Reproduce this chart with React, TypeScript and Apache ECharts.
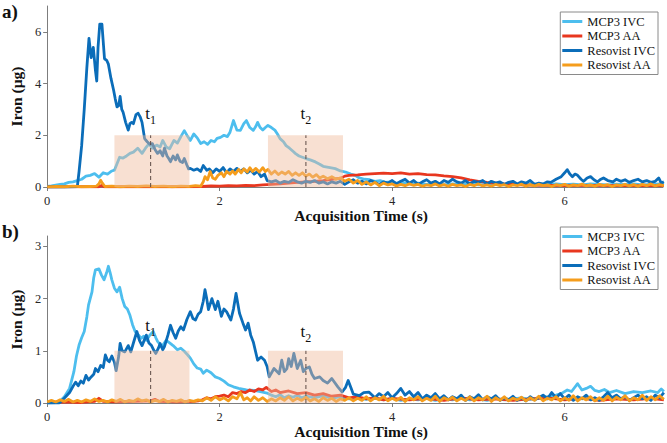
import React, { useEffect, useRef } from "react";
import * as echarts from "echarts";

const FONT = "Liberation Serif, serif";

const SERIES_NAMES = ["MCP3 IVC", "MCP3 AA", "Resovist IVC", "Resovist AA"];
const SERIES_COLORS = ["#4DBEEE", "#E8371F", "#0B6DB9", "#F59D1C"];

const X_MAX = 7.14;
const X_TICKS = [0, 2, 4, 6];
const A_Y_MAX = 7;
const A_Y_TICKS = [0, 2, 4, 6];
const B_Y_MAX = 3.2;
const B_Y_TICKS = [0, 1, 2, 3];

// ---------- panel a ----------
const aMcp3Ivc = [
  [0, 0.02], [0.05, 0.04], [0.1, 0.07], [0.15, 0.1], [0.2, 0.12], [0.25, 0.18], [0.3, 0.2], [0.35, 0.25],
  [0.4, 0.3], [0.45, 0.42], [0.5, 0.45], [0.55, 0.52], [0.6, 0.38], [0.65, 0.55], [0.7, 0.5], [0.75, 0.62],
  [0.78, 0.65], [0.81, 0.9], [0.84, 1.15], [0.88, 1.12], [0.92, 1.2], [0.96, 1.3], [1.0, 1.35], [1.05, 1.5],
  [1.1, 1.3], [1.14, 1.5], [1.18, 1.67], [1.22, 1.5], [1.27, 1.62], [1.31, 1.55], [1.34, 1.8], [1.38, 1.55],
  [1.42, 1.48], [1.47, 1.8], [1.51, 1.7], [1.55, 1.95], [1.59, 2.18], [1.63, 1.95], [1.66, 1.8], [1.7, 2.05],
  [1.74, 1.9], [1.78, 1.68], [1.82, 1.75], [1.86, 1.65], [1.9, 1.8], [1.94, 1.75], [1.97, 1.88], [2.01, 1.92],
  [2.05, 2.0], [2.09, 1.95], [2.12, 2.12], [2.16, 2.57], [2.2, 2.2], [2.24, 2.19], [2.28, 2.45], [2.31, 2.57],
  [2.35, 2.3], [2.39, 2.19], [2.42, 2.35], [2.44, 2.5], [2.47, 2.3], [2.5, 2.2], [2.53, 2.3], [2.56, 2.38],
  [2.6, 2.3], [2.64, 2.2], [2.67, 2.05], [2.7, 1.87], [2.74, 1.75], [2.77, 1.6], [2.81, 1.5], [2.85, 1.38],
  [2.88, 1.29], [2.92, 1.2], [2.96, 1.15], [3.0, 1.1], [3.05, 1.05], [3.11, 0.97], [3.16, 0.88], [3.2, 0.8],
  [3.23, 0.78], [3.28, 0.75], [3.34, 0.71], [3.4, 0.62], [3.46, 0.58], [3.52, 0.5], [3.57, 0.45], [3.62, 0.35],
  [3.68, 0.3], [3.74, 0.28], [3.8, 0.22], [3.86, 0.25], [3.92, 0.18], [3.98, 0.2], [4.05, 0.15], [4.12, 0.18],
  [4.2, 0.12], [4.3, 0.15], [4.4, 0.1], [4.5, 0.13], [4.6, 0.08], [4.7, 0.12], [4.8, 0.1], [4.9, 0.13],
  [5.0, 0.08], [5.1, 0.1], [5.2, 0.12], [5.3, 0.08], [5.4, 0.11], [5.5, 0.09], [5.6, 0.12], [5.7, 0.08],
  [5.8, 0.1], [5.9, 0.12], [6.0, 0.09], [6.1, 0.11], [6.2, 0.08], [6.3, 0.12], [6.4, 0.1], [6.5, 0.08],
  [6.6, 0.11], [6.7, 0.09], [6.8, 0.12], [6.9, 0.08], [7.0, 0.1], [7.1, 0.12], [7.15, 0.1],
];

const aMcp3Aa = [
  [0, 0], [0.3, 0.01], [0.6, 0.01], [0.63, 0.06], [0.66, 0.01], [1.0, 0.01], [1.5, 0.01], [1.8, 0.02],
  [1.9, 0.04], [2.0, 0.03], [2.1, 0.05], [2.2, 0.04], [2.3, 0.06], [2.4, 0.05], [2.5, 0.08], [2.6, 0.1],
  [2.7, 0.12], [2.8, 0.15], [2.9, 0.18], [3.0, 0.2], [3.1, 0.22], [3.2, 0.25], [3.3, 0.3], [3.4, 0.33],
  [3.45, 0.42], [3.5, 0.45], [3.6, 0.47], [3.7, 0.5], [3.8, 0.52], [3.9, 0.54], [4.0, 0.52], [4.1, 0.55],
  [4.2, 0.5], [4.3, 0.52], [4.4, 0.48], [4.5, 0.47], [4.6, 0.43], [4.7, 0.4], [4.8, 0.35], [4.9, 0.28],
  [5.0, 0.22], [5.1, 0.18], [5.2, 0.15], [5.3, 0.12], [5.4, 0.1], [5.5, 0.08], [5.6, 0.07], [5.8, 0.06],
  [6.0, 0.05], [6.3, 0.06], [6.6, 0.05], [7.0, 0.05], [7.15, 0.05],
];

const aResIvc = [
  [0, 0], [0.1, 0.01], [0.2, 0], [0.3, 0.01], [0.35, 0.02], [0.37, 0.6], [0.4, 1.6], [0.43, 3.0],
  [0.46, 4.6], [0.485, 5.75], [0.51, 5.0], [0.535, 5.4], [0.56, 4.5], [0.575, 4.1], [0.59, 5.4], [0.61, 6.3],
  [0.635, 6.3], [0.665, 4.96], [0.69, 4.9], [0.71, 4.75], [0.74, 4.2], [0.77, 3.75], [0.79, 3.4], [0.81, 3.1],
  [0.83, 3.15], [0.846, 3.5], [0.865, 3.0], [0.88, 2.9], [0.91, 2.5], [0.94, 2.2], [0.96, 2.45], [0.98, 2.5],
  [1.0, 2.45], [1.03, 2.8], [1.055, 2.85], [1.08, 2.7], [1.1, 2.5], [1.13, 1.87], [1.16, 1.75], [1.19, 1.65],
  [1.22, 1.68], [1.25, 1.45], [1.28, 1.3], [1.31, 1.4], [1.34, 1.2], [1.36, 1.5], [1.39, 1.2], [1.41, 1.1],
  [1.43, 0.98], [1.46, 1.2], [1.49, 1.05], [1.51, 1.24], [1.54, 1.0], [1.57, 0.95], [1.59, 1.1], [1.62, 0.85],
  [1.64, 0.7], [1.66, 0.72], [1.7, 0.65], [1.74, 0.7], [1.78, 0.6], [1.81, 0.83], [1.85, 0.65], [1.88, 0.7],
  [1.92, 0.55], [1.96, 0.7], [2.0, 0.6], [2.04, 0.75], [2.08, 0.55], [2.12, 0.7], [2.16, 0.6], [2.2, 0.72],
  [2.24, 0.6], [2.28, 0.7], [2.32, 0.55], [2.36, 0.65], [2.4, 0.5], [2.44, 0.6], [2.48, 0.4], [2.52, 0.5],
  [2.55, 0.25], [2.6, 0.2], [2.65, 0.25], [2.7, 0.15], [2.75, 0.22], [2.8, 0.18], [2.85, 0.28], [2.9, 0.2],
  [2.95, 0.15], [3.0, 0.22], [3.05, 0.18], [3.1, 0.25], [3.15, 0.15], [3.2, 0.2], [3.25, 0.12], [3.3, 0.2],
  [3.35, 0.15], [3.4, 0.22], [3.45, 0.1], [3.5, 0.2], [3.55, 0.28], [3.6, 0.15], [3.65, 0.22], [3.7, 0.12],
  [3.75, 0.25], [3.8, 0.18], [3.85, 0.1], [3.9, 0.2], [3.95, 0.15], [4.0, 0.25], [4.05, 0.12], [4.1, 0.22],
  [4.15, 0.3], [4.2, 0.15], [4.25, 0.25], [4.3, 0.1], [4.35, 0.2], [4.4, 0.28], [4.45, 0.15], [4.5, 0.22],
  [4.55, 0.12], [4.6, 0.25], [4.65, 0.18], [4.7, 0.3], [4.75, 0.2], [4.8, 0.15], [4.85, 0.25], [4.9, 0.12],
  [4.95, 0.22], [5.0, 0.18], [5.05, 0.25], [5.1, 0.12], [5.15, 0.22], [5.2, 0.15], [5.25, 0.2], [5.3, 0.1],
  [5.35, 0.18], [5.4, 0.22], [5.45, 0.12], [5.5, 0.2], [5.55, 0.15], [5.6, 0.25], [5.65, 0.1], [5.7, 0.15],
  [5.75, 0.12], [5.8, 0.2], [5.84, 0.18], [5.9, 0.3], [5.96, 0.4], [6.0, 0.55], [6.03, 0.67], [6.06, 0.5],
  [6.09, 0.4], [6.12, 0.5], [6.15, 0.45], [6.19, 0.3], [6.22, 0.22], [6.26, 0.35], [6.3, 0.4], [6.34, 0.28],
  [6.38, 0.2], [6.42, 0.3], [6.45, 0.35], [6.5, 0.25], [6.56, 0.2], [6.6, 0.3], [6.65, 0.22], [6.7, 0.28],
  [6.75, 0.18], [6.8, 0.25], [6.85, 0.3], [6.9, 0.2], [6.95, 0.25], [7.0, 0.18], [7.05, 0.22], [7.09, 0.35],
  [7.12, 0.15], [7.15, 0.2],
];

const aResAa = [
  [0, 0], [0.1, 0.02], [0.2, 0.01], [0.3, 0.03], [0.4, 0.01], [0.5, 0.02], [0.57, 0.03], [0.6, 0.12],
  [0.62, 0.26], [0.64, 0.15], [0.67, 0.02], [0.75, 0.03], [0.85, 0.01], [0.95, 0.03], [1.05, 0.02], [1.15, 0.04],
  [1.25, 0.02], [1.35, 0.03], [1.45, 0.01], [1.55, 0.03], [1.65, 0.02], [1.72, 0.05], [1.78, 0.03], [1.81, 0.2],
  [1.83, 0.4], [1.86, 0.28], [1.89, 0.6], [1.92, 0.35], [1.95, 0.3], [1.98, 0.45], [2.02, 0.55], [2.05, 0.4],
  [2.08, 0.6], [2.12, 0.5], [2.15, 0.62], [2.18, 0.5], [2.22, 0.68], [2.25, 0.55], [2.28, 0.7], [2.32, 0.58],
  [2.35, 0.75], [2.38, 0.6], [2.42, 0.72], [2.46, 0.58], [2.5, 0.75], [2.53, 0.6], [2.56, 0.68], [2.6, 0.5],
  [2.64, 0.62], [2.68, 0.48], [2.72, 0.58], [2.76, 0.5], [2.8, 0.6], [2.84, 0.45], [2.88, 0.55], [2.92, 0.45],
  [2.96, 0.55], [3.0, 0.42], [3.04, 0.5], [3.08, 0.38], [3.12, 0.48], [3.16, 0.35], [3.2, 0.42], [3.25, 0.32],
  [3.3, 0.4], [3.35, 0.3], [3.4, 0.35], [3.45, 0.22], [3.5, 0.3], [3.55, 0.15], [3.6, 0.25], [3.65, 0.1],
  [3.7, 0.2], [3.75, 0.08], [3.8, 0.18], [3.85, 0.05], [3.9, 0.15], [3.95, 0.08], [4.0, 0.12], [4.05, 0.04],
  [4.1, 0.1], [4.15, 0.05], [4.2, 0.12], [4.25, 0.06], [4.3, 0.1], [4.35, 0.03], [4.4, 0.08], [4.45, 0.05],
  [4.5, 0.12], [4.55, 0.04], [4.6, 0.09], [4.65, 0.03], [4.7, 0.1], [4.75, 0.05], [4.8, 0.08], [4.85, 0.02],
  [4.9, 0.1], [4.95, 0.05], [5.0, 0.12], [5.05, 0.04], [5.1, 0.08], [5.15, 0.03], [5.2, 0.1], [5.25, 0.05],
  [5.3, 0.09], [5.35, 0.02], [5.4, 0.08], [5.45, 0.05], [5.5, 0.11], [5.55, 0.03], [5.6, 0.09], [5.65, 0.04],
  [5.7, 0.1], [5.75, 0.05], [5.8, 0.08], [5.85, 0.02], [5.9, 0.09], [5.95, 0.05], [6.0, 0.1], [6.05, 0.03],
  [6.1, 0.08], [6.15, 0.05], [6.2, 0.11], [6.25, 0.04], [6.3, 0.08], [6.35, 0.03], [6.4, 0.1], [6.45, 0.05],
  [6.5, 0.09], [6.55, 0.02], [6.6, 0.08], [6.65, 0.05], [6.7, 0.1], [6.75, 0.04], [6.8, 0.09], [6.85, 0.03],
  [6.9, 0.1], [6.95, 0.05], [7.0, 0.12], [7.05, 0.04], [7.1, 0.09], [7.15, 0.05],
];

// ---------- panel b ----------
const bMcp3Ivc = [
  [0, 0], [0.1, 0.01], [0.14, 0.02], [0.2, 0.12], [0.26, 0.28], [0.31, 0.6], [0.34, 0.9], [0.37, 1.11],
  [0.4, 1.25], [0.43, 1.37], [0.46, 1.65], [0.48, 1.88], [0.52, 2.13], [0.54, 2.4], [0.56, 2.55], [0.6, 2.57],
  [0.63, 2.45], [0.66, 2.36], [0.69, 2.5], [0.71, 2.62], [0.73, 2.5], [0.75, 2.36], [0.78, 2.2], [0.81, 2.13],
  [0.84, 2.22], [0.87, 2.0], [0.9, 1.85], [0.93, 1.8], [0.96, 1.68], [0.99, 1.5], [1.02, 1.37], [1.06, 1.3],
  [1.09, 1.24], [1.12, 1.28], [1.15, 1.2], [1.19, 1.3], [1.23, 1.37], [1.26, 1.25], [1.28, 1.18], [1.33, 1.08],
  [1.38, 1.2], [1.42, 1.15], [1.46, 1.1], [1.51, 1.02], [1.55, 1.05], [1.59, 0.99], [1.63, 0.92], [1.66, 0.86],
  [1.7, 0.75], [1.74, 0.67], [1.78, 0.65], [1.81, 0.57], [1.85, 0.63], [1.9, 0.58], [1.95, 0.5], [2.0, 0.47],
  [2.05, 0.42], [2.1, 0.35], [2.16, 0.31], [2.22, 0.28], [2.31, 0.25], [2.4, 0.24], [2.47, 0.22], [2.55, 0.19],
  [2.6, 0.15], [2.65, 0.12], [2.7, 0.16], [2.75, 0.1], [2.8, 0.14], [2.85, 0.11], [2.9, 0.15], [2.95, 0.1],
  [3.0, 0.13], [3.1, 0.1], [3.2, 0.14], [3.3, 0.09], [3.4, 0.12], [3.5, 0.08], [3.6, 0.1], [3.7, 0.07],
  [3.8, 0.1], [3.9, 0.06], [4.0, 0.09], [4.1, 0.05], [4.2, 0.08], [4.3, 0.06], [4.4, 0.09], [4.5, 0.05],
  [4.6, 0.08], [4.7, 0.06], [4.8, 0.1], [4.9, 0.06], [5.0, 0.08], [5.1, 0.05], [5.2, 0.09], [5.3, 0.06],
  [5.4, 0.08], [5.5, 0.1], [5.6, 0.07], [5.7, 0.1], [5.8, 0.12], [5.9, 0.15], [5.96, 0.18], [6.03, 0.25],
  [6.08, 0.22], [6.15, 0.37], [6.2, 0.25], [6.25, 0.28], [6.3, 0.32], [6.35, 0.24], [6.4, 0.22], [6.46, 0.26],
  [6.52, 0.2], [6.6, 0.24], [6.7, 0.18], [6.8, 0.22], [6.9, 0.2], [7.0, 0.23], [7.08, 0.2], [7.12, 0.27],
  [7.15, 0.22],
];

const bMcp3Aa = [
  [0, 0.01], [0.2, 0.02], [0.4, 0.01], [0.55, 0.03], [0.6, 0.09], [0.65, 0.03], [0.8, 0.02], [1.0, 0.03],
  [1.2, 0.04], [1.25, 0.07], [1.3, 0.03], [1.5, 0.02], [1.7, 0.03], [1.75, 0.04], [1.8, 0.06], [1.85, 0.1],
  [1.9, 0.08], [1.95, 0.12], [2.0, 0.13], [2.05, 0.15], [2.1, 0.12], [2.15, 0.2], [2.2, 0.18], [2.25, 0.22],
  [2.3, 0.2], [2.35, 0.25], [2.4, 0.22], [2.45, 0.27], [2.5, 0.25], [2.54, 0.3], [2.6, 0.22], [2.65, 0.25],
  [2.7, 0.2], [2.8, 0.23], [2.9, 0.18], [3.0, 0.2], [3.1, 0.15], [3.2, 0.18], [3.3, 0.13], [3.4, 0.15],
  [3.5, 0.1], [3.6, 0.12], [3.7, 0.08], [3.8, 0.1], [3.9, 0.06], [4.0, 0.09], [4.2, 0.06], [4.4, 0.09],
  [4.6, 0.05], [4.8, 0.1], [5.0, 0.06], [5.2, 0.08], [5.4, 0.05], [5.6, 0.08], [5.8, 0.1], [6.0, 0.06],
  [6.2, 0.09], [6.4, 0.05], [6.6, 0.08], [6.8, 0.06], [7.0, 0.09], [7.15, 0.06],
];

const bResIvc = [
  [0, 0], [0.1, 0], [0.14, 0], [0.18, 0.06], [0.22, 0.13], [0.26, 0.2], [0.3, 0.32], [0.33, 0.4],
  [0.36, 0.33], [0.39, 0.42], [0.42, 0.38], [0.45, 0.53], [0.48, 0.44], [0.51, 0.5], [0.54, 0.55], [0.56, 0.66],
  [0.59, 0.6], [0.62, 0.72], [0.65, 0.68], [0.675, 0.92], [0.7, 0.82], [0.72, 0.79], [0.75, 0.9], [0.78, 0.78],
  [0.8, 0.62], [0.83, 0.9], [0.846, 1.14], [0.87, 1.0], [0.9, 0.98], [0.94, 1.1], [0.97, 0.98], [1.0, 1.15],
  [1.04, 1.37], [1.07, 1.2], [1.1, 1.1], [1.15, 1.3], [1.18, 1.15], [1.21, 1.1], [1.24, 1.0], [1.26, 0.95],
  [1.29, 1.05], [1.31, 1.14], [1.34, 1.02], [1.36, 1.08], [1.4, 1.3], [1.43, 1.49], [1.46, 1.35], [1.49, 1.24],
  [1.52, 1.38], [1.55, 1.46], [1.58, 1.4], [1.62, 1.6], [1.66, 1.75], [1.69, 1.62], [1.72, 1.59], [1.75, 1.7],
  [1.78, 1.75], [1.81, 1.95], [1.83, 2.17], [1.85, 2.0], [1.87, 1.79], [1.91, 2.0], [1.95, 1.79], [1.98, 1.95],
  [2.02, 1.66], [2.05, 1.8], [2.08, 1.75], [2.13, 1.59], [2.16, 1.8], [2.19, 2.1], [2.23, 1.72], [2.27, 1.53],
  [2.3, 1.4], [2.33, 1.53], [2.36, 1.3], [2.39, 1.17], [2.44, 0.82], [2.48, 0.88], [2.52, 0.82], [2.55, 0.7],
  [2.575, 0.5], [2.63, 0.66], [2.69, 0.56], [2.72, 0.82], [2.75, 0.6], [2.78, 0.66], [2.8, 0.85], [2.83, 0.7],
  [2.86, 0.95], [2.9, 0.66], [2.94, 0.82], [2.97, 0.6], [3.0, 0.66], [3.04, 0.69], [3.07, 0.55], [3.1, 0.47],
  [3.16, 0.5], [3.2, 0.43], [3.25, 0.38], [3.3, 0.47], [3.37, 0.31], [3.42, 0.21], [3.46, 0.3], [3.49, 0.43],
  [3.52, 0.3], [3.55, 0.17], [3.62, 0.14], [3.67, 0.2], [3.73, 0.21], [3.8, 0.1], [3.85, 0.18], [3.9, 0.12],
  [3.95, 0.2], [4.0, 0.1], [4.05, 0.18], [4.1, 0.28], [4.15, 0.15], [4.2, 0.22], [4.25, 0.12], [4.3, 0.2],
  [4.35, 0.08], [4.4, 0.15], [4.45, 0.1], [4.5, 0.18], [4.55, 0.08], [4.6, 0.14], [4.65, 0.06], [4.7, 0.12],
  [4.75, 0.08], [4.8, 0.15], [4.85, 0.05], [4.9, 0.12], [4.95, 0.08], [5.0, 0.16], [5.05, 0.06], [5.1, 0.12],
  [5.15, 0.08], [5.2, 0.14], [5.25, 0.05], [5.3, 0.1], [5.35, 0.06], [5.4, 0.13], [5.45, 0.05], [5.5, 0.1],
  [5.55, 0.04], [5.6, 0.12], [5.65, 0.06], [5.7, 0.1], [5.75, 0.15], [5.8, 0.08], [5.85, 0.2], [5.9, 0.1],
  [5.95, 0.18], [6.0, 0.08], [6.05, 0.15], [6.1, 0.05], [6.15, 0.12], [6.2, 0.08], [6.25, 0.15], [6.3, 0.06],
  [6.35, 0.1], [6.4, 0.05], [6.45, 0.12], [6.5, 0.2], [6.55, 0.1], [6.6, 0.15], [6.65, 0.08], [6.7, 0.12],
  [6.75, 0.05], [6.8, 0.1], [6.85, 0.15], [6.9, 0.08], [6.95, 0.12], [7.0, 0.05], [7.05, 0.15], [7.1, 0.1],
  [7.15, 0.2],
];

const bResAa = [
  [0, 0.02], [0.05, 0.05], [0.1, 0.02], [0.15, 0.06], [0.2, 0.03], [0.25, 0.07], [0.3, 0.02], [0.35, 0.05],
  [0.4, 0.02], [0.45, 0.06], [0.5, 0.03], [0.55, 0.08], [0.6, 0.03], [0.65, 0.05], [0.7, 0.02], [0.75, 0.06],
  [0.8, 0.03], [0.85, 0.07], [0.9, 0.02], [0.95, 0.05], [1.0, 0.03], [1.05, 0.08], [1.1, 0.04], [1.15, 0.06],
  [1.2, 0.02], [1.25, 0.05], [1.3, 0.03], [1.35, 0.07], [1.4, 0.02], [1.45, 0.05], [1.5, 0.03], [1.55, 0.06],
  [1.6, 0.02], [1.65, 0.05], [1.7, 0.03], [1.75, 0.06], [1.8, 0.04], [1.85, 0.1], [1.9, 0.05], [1.95, 0.12],
  [2.0, 0.06], [2.05, 0.1], [2.1, 0.04], [2.15, 0.12], [2.2, 0.08], [2.24, 0.2], [2.28, 0.06], [2.32, 0.1],
  [2.36, 0.04], [2.4, 0.12], [2.45, 0.05], [2.5, 0.1], [2.55, 0.03], [2.6, 0.08], [2.65, 0.04], [2.7, 0.1],
  [2.75, 0.05], [2.8, 0.12], [2.85, 0.04], [2.9, 0.09], [2.95, 0.05], [3.0, 0.11], [3.05, 0.04], [3.1, 0.08],
  [3.15, 0.03], [3.2, 0.1], [3.25, 0.05], [3.3, 0.09], [3.35, 0.03], [3.4, 0.08], [3.45, 0.05], [3.5, 0.1],
  [3.55, 0.04], [3.6, 0.09], [3.65, 0.05], [3.7, 0.12], [3.75, 0.04], [3.8, 0.1], [3.85, 0.06], [3.9, 0.13],
  [3.95, 0.04], [4.0, 0.09], [4.05, 0.05], [4.1, 0.11], [4.15, 0.03], [4.2, 0.1], [4.25, 0.06], [4.3, 0.12],
  [4.35, 0.04], [4.4, 0.09], [4.45, 0.05], [4.5, 0.13], [4.55, 0.03], [4.6, 0.1], [4.65, 0.06], [4.7, 0.11],
  [4.75, 0.04], [4.8, 0.09], [4.85, 0.05], [4.9, 0.12], [4.95, 0.04], [5.0, 0.1], [5.05, 0.06], [5.1, 0.13],
  [5.15, 0.03], [5.2, 0.1], [5.25, 0.05], [5.3, 0.12], [5.35, 0.04], [5.4, 0.09], [5.45, 0.06], [5.5, 0.11],
  [5.55, 0.04], [5.6, 0.1], [5.65, 0.05], [5.7, 0.13], [5.75, 0.04], [5.8, 0.09], [5.85, 0.06], [5.9, 0.12],
  [5.95, 0.04], [6.0, 0.1], [6.05, 0.05], [6.1, 0.14], [6.15, 0.04], [6.2, 0.1], [6.25, 0.06], [6.3, 0.12],
  [6.35, 0.04], [6.4, 0.1], [6.45, 0.05], [6.5, 0.13], [6.55, 0.04], [6.6, 0.11], [6.65, 0.06], [6.7, 0.14],
  [6.75, 0.04], [6.8, 0.1], [6.85, 0.06], [6.9, 0.15], [6.95, 0.05], [7.0, 0.12], [7.05, 0.06], [7.1, 0.14],
  [7.15, 0.07],
];

// shaded windows: [start, end, height]
const A_WINDOWS = [[0.78, 1.65, 2], [2.56, 3.43, 2]];
const B_WINDOWS = [[0.78, 1.65, 1], [2.56, 3.43, 1]];
// dashed time marks: [time, height]
const A_MARKS = [[1.2, 2], [3.0, 2]];
const B_MARKS = [[1.2, 1], [3.0, 1]];
// time labels: [time, y] with subscripts
const LABEL_SUBS = ["1", "2"];
const A_LABELS = [[1.2, 2.78], [3.0, 2.78]];
const B_LABELS = [[1.2, 1.45], [3.0, 1.33]];

const PANEL_SERIES = [
  [aMcp3Ivc, aMcp3Aa, aResIvc, aResAa],
  [bMcp3Ivc, bMcp3Aa, bResIvc, bResAa],
];

function buildOption() {
  const grids = [
    { left: 38, top: 6, width: 625, height: 181 },
    { left: 38, top: 236, width: 625, height: 167 },
  ];
  const axisColor = "#7d7d7d";
  const xAxes = [0, 1].map((i) => ({
    type: "value",
    gridIndex: i,
    min: 0,
    max: X_MAX,
    interval: 2,
    axisLine: { show: true, onZero: false, lineStyle: { color: axisColor, width: 1 } },
    axisTick: { show: true, length: 4, lineStyle: { color: axisColor }, customValues: X_TICKS },
    axisLabel: { customValues: X_TICKS, color: "#262626", fontFamily: FONT, fontSize: 12.5, margin: 7 },
    splitLine: { show: false },
    name: "Acquisition Time (s)",
    nameLocation: "middle",
    nameGap: 19,
    nameTextStyle: { fontFamily: FONT, fontSize: 15.5, fontWeight: "bold", color: "#111", padding: [0, 0, 0, 12] },
  }));
  const yAxes = [
    { max: A_Y_MAX, ticks: A_Y_TICKS, interval: 2 },
    { max: B_Y_MAX, ticks: B_Y_TICKS, interval: 1 },
  ].map((a, i) => ({
    type: "value",
    gridIndex: i,
    min: 0,
    max: a.max,
    interval: a.interval,
    axisLine: { show: true, lineStyle: { color: axisColor, width: 1 } },
    axisTick: { show: true, length: 4, lineStyle: { color: axisColor }, customValues: a.ticks },
    axisLabel: { customValues: a.ticks, color: "#262626", fontFamily: FONT, fontSize: 12.5, margin: 6 },
    splitLine: { show: false },
    name: "Iron (μg)",
    nameLocation: "middle",
    nameGap: 14,
    nameTextStyle: { fontFamily: FONT, fontSize: 15.5, fontWeight: "bold", color: "#111" },
  }));

  const series: any[] = [];
  PANEL_SERIES.forEach((set, p) => {
    set.forEach((data, k) => {
      series.push({
        type: "line",
        name: SERIES_NAMES[k],
        xAxisIndex: p,
        yAxisIndex: p,
        data,
        showSymbol: false,
        symbol: "none",
        lineStyle: { color: SERIES_COLORS[k], width: 2.8, join: "round" },
        itemStyle: { color: SERIES_COLORS[k] },
        z: 2 + k * 0.01,
        silent: true,
      });
    });
    const windows = p === 0 ? A_WINDOWS : B_WINDOWS;
    const marks = p === 0 ? A_MARKS : B_MARKS;
    const labels = p === 0 ? A_LABELS : B_LABELS;
    series.push({
      type: "custom",
      xAxisIndex: p,
      yAxisIndex: p,
      data: windows,
      encode: { x: [0, 1], y: 2 },
      silent: true,
      z: 5,
      renderItem: (_params: any, api: any) => {
        const p0 = api.coord([api.value(0), 0]);
        const p1 = api.coord([api.value(1), api.value(2)]);
        return {
          type: "rect",
          shape: { x: p0[0], y: p1[1], width: p1[0] - p0[0], height: p0[1] - p1[1] },
          style: { fill: "rgba(239,186,155,0.45)" },
        };
      },
    });
    series.push({
      type: "custom",
      xAxisIndex: p,
      yAxisIndex: p,
      data: marks,
      encode: { x: 0, y: 1 },
      silent: true,
      z: 6,
      renderItem: (_params: any, api: any) => {
        const p0 = api.coord([api.value(0), 0]);
        const p1 = api.coord([api.value(0), api.value(1)]);
        return {
          type: "line",
          shape: { x1: p0[0], y1: p0[1], x2: p1[0], y2: p1[1] },
          style: { stroke: "#5e4b45", lineWidth: 1, lineDash: [4, 3] },
        };
      },
    });
    series.push({
      type: "custom",
      xAxisIndex: p,
      yAxisIndex: p,
      data: labels,
      encode: { x: 0, y: 1 },
      silent: true,
      z: 6,
      renderItem: (params: any, api: any) => {
        const pt = api.coord([api.value(0), api.value(1)]);
        return {
          type: "text",
          x: pt[0],
          y: pt[1],
          style: {
            text: `{t|t}{s|${LABEL_SUBS[params.dataIndex]}}`,
            align: "center",
            verticalAlign: "middle",
            fontFamily: FONT,
            rich: {
              t: { fontFamily: FONT, fontSize: 17, lineHeight: 21, verticalAlign: "top", fill: "#111" },
              s: { fontFamily: FONT, fontSize: 12, lineHeight: 12, verticalAlign: "bottom", fill: "#111" },
            },
          },
        };
      },
    });
  });

  const legends = [12, 227].map((top) => ({
    orient: "vertical",
    right: 9,
    top,
    icon: "rect",
    itemWidth: 20,
    itemHeight: 3,
    itemGap: 1.5,
    padding: [3, 3, 3, 2],
    borderColor: "#8a8a8a",
    borderWidth: 1,
    borderRadius: 0,
    backgroundColor: "#ffffff",
    selectedMode: false,
    data: SERIES_NAMES,
    textStyle: { fontFamily: FONT, fontSize: 12.5, color: "#111" },
  }));

  return {
    animation: false,
    backgroundColor: "#ffffff",
    textStyle: { fontFamily: FONT },
    grid: grids,
    xAxis: xAxes,
    yAxis: yAxes,
    legend: legends,
    series,
    graphic: [
      { type: "text", left: 2, top: 2, style: { text: "a)", font: `bold 19px ${FONT}`, fill: "#111" } },
      { type: "text", left: 2, top: 222, style: { text: "b)", font: `bold 19px ${FONT}`, fill: "#111" } },
    ],
  };
}

export default function App() {
  const ref = useRef<HTMLDivElement>(null);
  useEffect(() => {
    if (!ref.current) return;
    const chart = echarts.init(ref.current, undefined, { renderer: "svg" });
    chart.setOption(buildOption() as any);
    return () => chart.dispose();
  }, []);
  return (
    <div
      ref={ref}
      style={{ position: "fixed", left: 0, top: 0, width: 667, height: 443, background: "#fff" }}
    />
  );
}
